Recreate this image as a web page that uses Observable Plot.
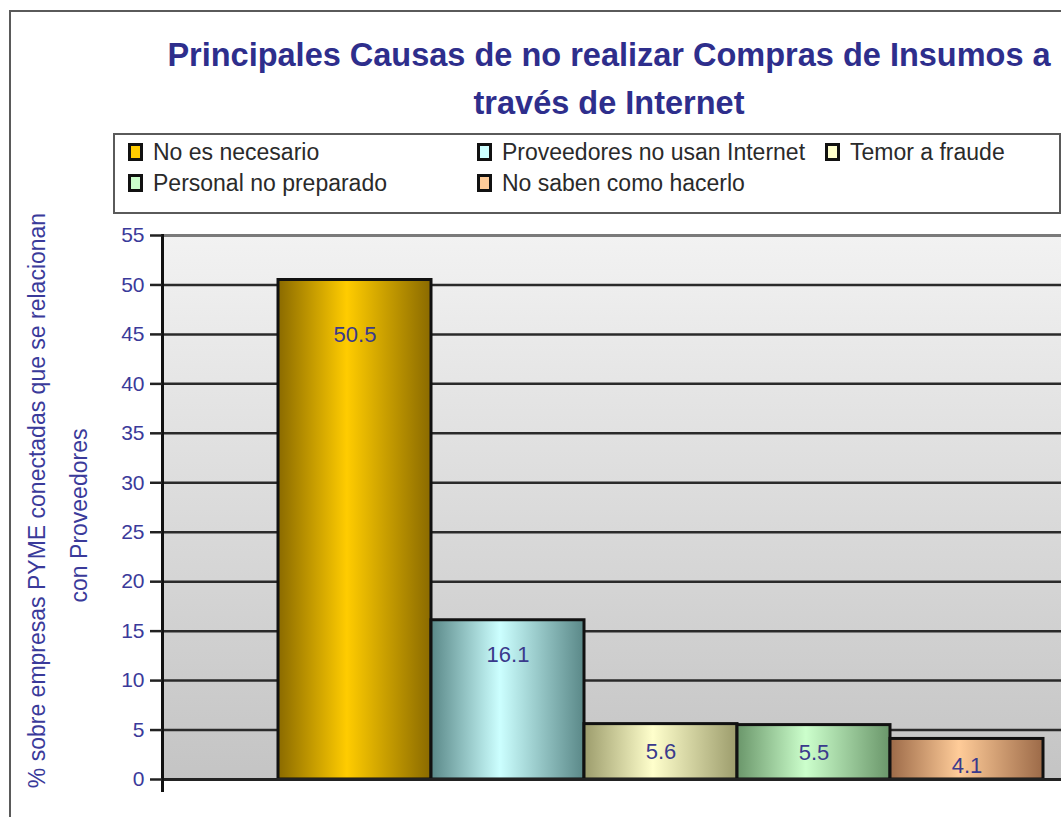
<!DOCTYPE html>
<html>
<head>
<meta charset="utf-8">
<script src="https://cdn.jsdelivr.net/npm/d3@7"></script>
<script src="https://cdn.jsdelivr.net/npm/@observablehq/plot@0.6"></script>
<style>
  html, body { margin: 0; padding: 0; background: #fff; overflow: hidden; width: 1061px; height: 817px; }
  body { position: relative; font-family: "Liberation Sans", Arial, sans-serif; }
  #frame { position: absolute; left: 9px; top: 10px; width: 1200px; height: 900px; border: 2px solid #5a5a5a; box-sizing: border-box; }
  #title { position: absolute; left: 0; top: 31px; width: 1218px; text-align: center; font-weight: bold; font-size: 32.5px; line-height: 48px; color: #2e2e8c; white-space: nowrap; }
  #legend { position: absolute; left: 113px; top: 133px; width: 948px; height: 81px; border: 2px solid #5a5a5a; box-sizing: border-box; background: #fff; }
  .item { position: absolute; height: 28px; display: flex; align-items: center; font-size: 23px; color: #2a2a2a; white-space: nowrap; }
  .sw { width: 9px; height: 12px; border: 3px solid #111; margin-right: 10px; flex: none; }
  #chart { position: absolute; left: 0; top: 213px; }
</style>
</head>
<body>
<div id="frame"></div>
<div id="title">Principales Causas de no realizar Compras de Insumos a<br>través de Internet</div>
<div id="legend"></div>
<div id="chart"></div>
<script>
// ---- data ----
const causes = ["No es necesario", "Proveedores no usan Internet", "Temor a fraude", "Personal no preparado", "No saben como hacerlo"];
const values = [50.5, 16.1, 5.6, 5.5, 4.1];
const yTicks = [0, 5, 10, 15, 20, 25, 30, 35, 40, 45, 50, 55];
const yTitleLines = ["% sobre empresas PYME conectadas que se relacionan", "con Proveedores"];

// ---- styles ----
const lightColors = ["#ffcc00", "#ccffff", "#ffffcc", "#ccffcc", "#ffcc99"];
const darkColors = ["#8a6a00", "#5a8888", "#9c9c6c", "#6a966a", "#9c6a48"];
const legendCols = [128, 477, 825];
const legendRows = [138, 169];

const data = causes.map((c, i) => ({cause: c, value: values[i]}));

// legend
const legend = document.getElementById("legend");
causes.forEach((c, i) => {
  const el = document.createElement("div");
  el.className = "item";
  el.style.left = (legendCols[i % 3] - 113 - 2) + "px";
  el.style.top = (legendRows[Math.floor(i / 3)] - 133 - 2) + "px";
  const sw = document.createElement("span");
  sw.className = "sw";
  sw.style.background = lightColors[i];
  el.appendChild(sw);
  el.appendChild(document.createTextNode(c));
  legend.appendChild(el);
});

const chart = Plot.plot({
  width: 1061,
  height: 604,
  marginLeft: 162,
  marginRight: 0,
  marginTop: 22,
  marginBottom: 38,
  style: {fontFamily: "'Liberation Sans', Arial, sans-serif", background: "transparent", overflow: "visible"},
  x: {domain: causes, range: [278, 1043], padding: 0, axis: null},
  y: {domain: [0, 55], axis: null},
  color: {domain: causes, range: causes.map((c, i) => `url(#barGrad${i})`)},
  marks: [
    Plot.frame({fill: "url(#bgGrad)", stroke: null}),
    Plot.ruleY([55], {stroke: "#7a7a7a", strokeWidth: 3}),
    Plot.ruleY(yTicks.filter(t => t > 0 && t < 55), {stroke: "#2a2a2a", strokeWidth: 2.5}),
    Plot.barY(data, {x: "cause", y: "value", fill: "cause", stroke: "#111", strokeWidth: 3}),
    Plot.ruleY([0], {stroke: "#222", strokeWidth: 3}),
    Plot.frame({anchor: "left", stroke: "#111", strokeWidth: 3, insetBottom: -11}),
    Plot.axisY({ticks: yTicks, tickSize: 12, tickPadding: 6, stroke: "#222", strokeWidth: 2.5, fill: "#3a3a9a", fontSize: 21, label: null}),
    Plot.text(data, {x: "cause", y: d => d.value * 0.94 - 2.5, text: d => d.value.toFixed(1), fill: "#3a3a8c", fontSize: 22}),
    Plot.text([yTitleLines[0]], {frameAnchor: "left", textAnchor: "middle", rotate: -90, dx: -125, dy: -7, fill: "#3a3a9a", fontSize: 23}),
    Plot.text([yTitleLines[1]], {frameAnchor: "left", textAnchor: "middle", rotate: -90, dx: -83, dy: 8, fill: "#3a3a9a", fontSize: 23})
  ]
});

// gradients
const svg = d3.select(chart);
const defs = svg.insert("defs", ":first-child");
const bg = defs.append("linearGradient").attr("id", "bgGrad").attr("x1", 0).attr("y1", 0).attr("x2", 0).attr("y2", 1);
bg.append("stop").attr("offset", 0).attr("stop-color", "#f2f2f2");
bg.append("stop").attr("offset", 1).attr("stop-color", "#c4c4c4");
lightColors.forEach((lc, i) => {
  const g = defs.append("linearGradient").attr("id", `barGrad${i}`).attr("x1", 0).attr("y1", 0).attr("x2", 1).attr("y2", 0);
  g.append("stop").attr("offset", 0).attr("stop-color", darkColors[i]);
  g.append("stop").attr("offset", 0.45).attr("stop-color", lc);
  g.append("stop").attr("offset", 1).attr("stop-color", darkColors[i]);
});

document.getElementById("chart").appendChild(chart);
</script>
</body>
</html>
